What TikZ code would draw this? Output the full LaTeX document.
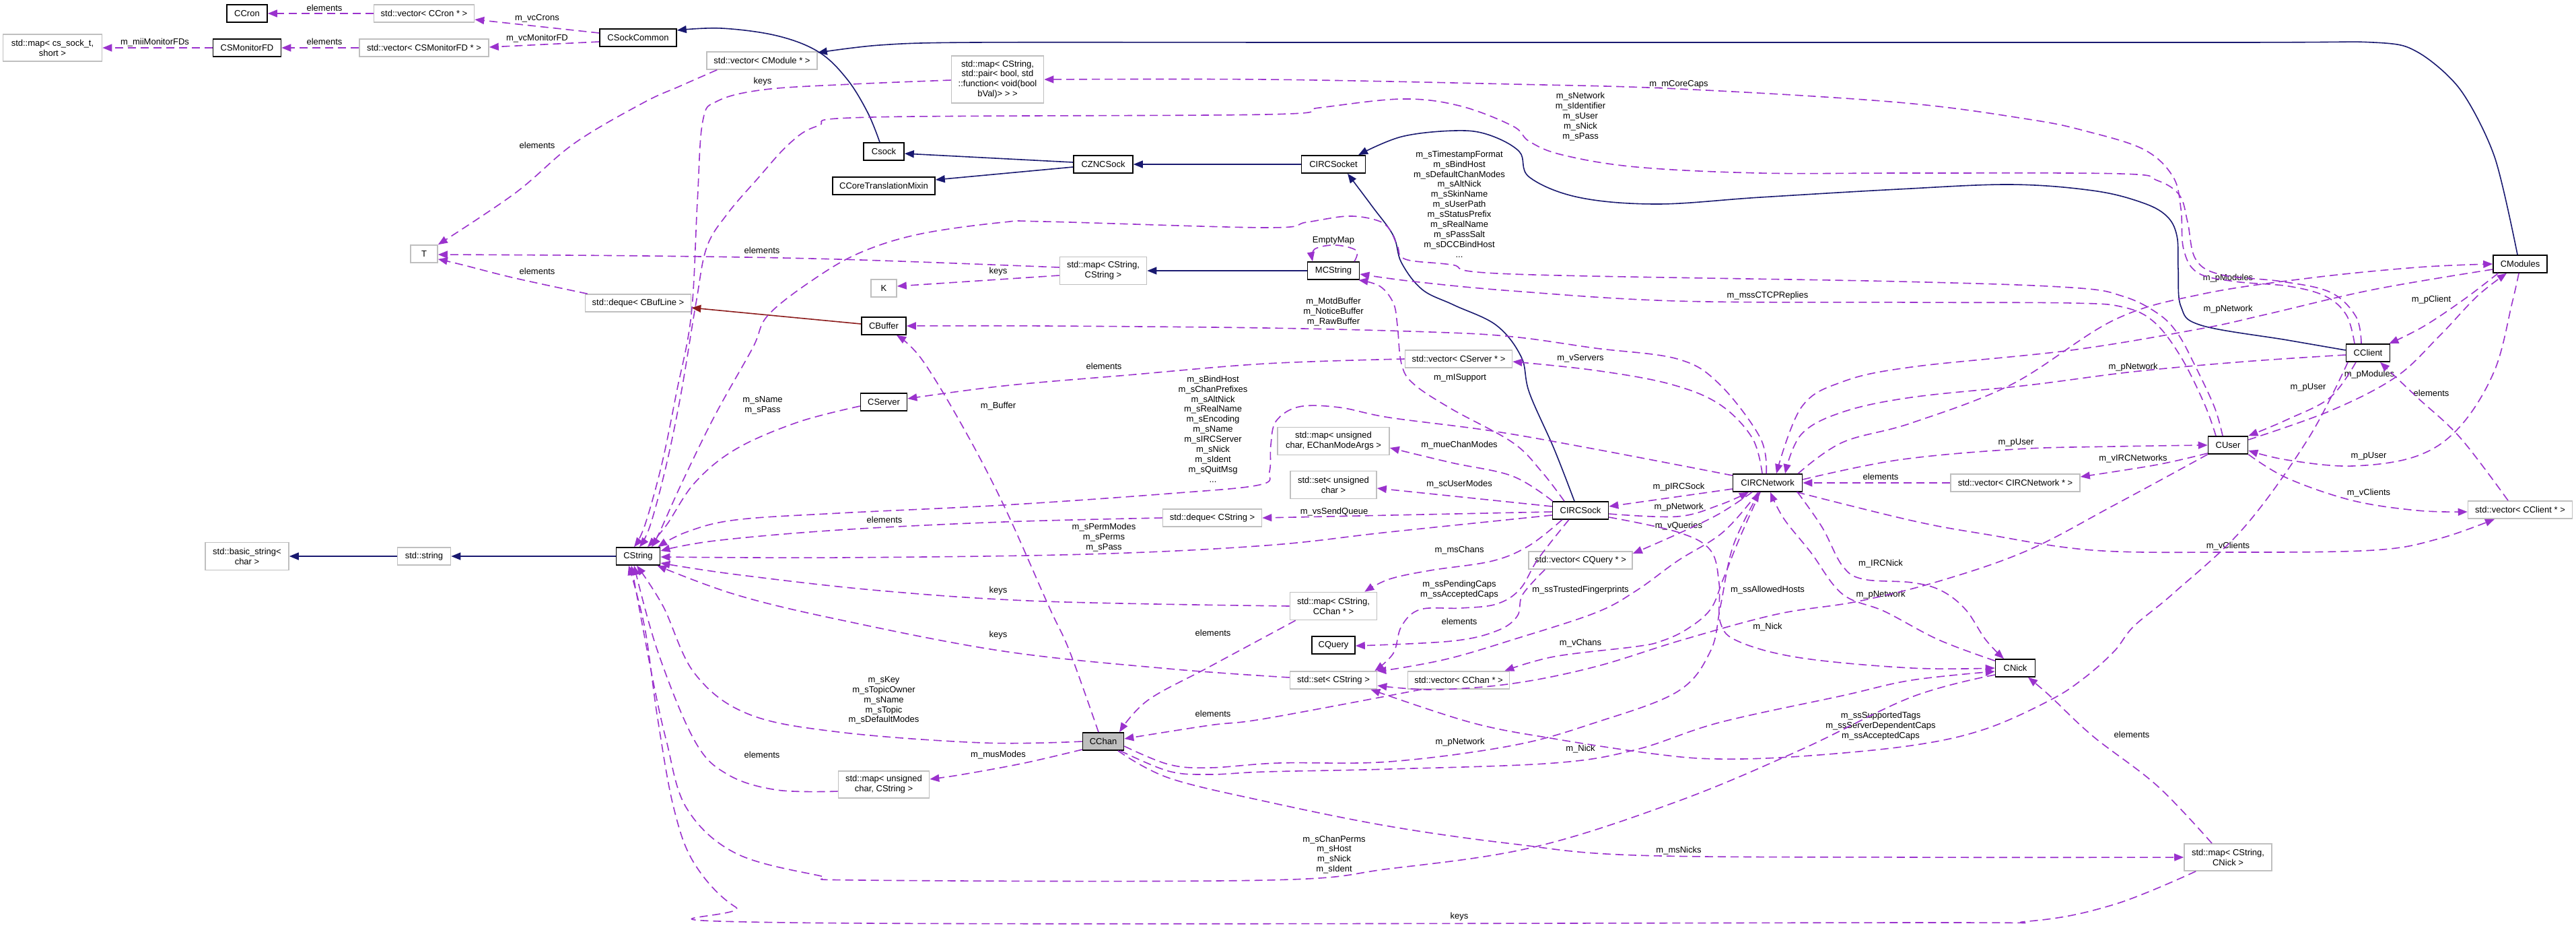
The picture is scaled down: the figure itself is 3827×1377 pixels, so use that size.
\documentclass[tikz,border=0pt]{standalone}
\usepackage{fontspec}
\setmainfont{Liberation Sans}
\usetikzlibrary{arrows.meta,calc}
\definecolor{usec}{HTML}{9A32CD}
\definecolor{inhc}{HTML}{191970}
\definecolor{redc}{HTML}{8B1A1A}
\definecolor{tplc}{HTML}{BFBFBF}
\definecolor{chanc}{HTML}{BFBFBF}
\tikzset{
  every node/.style={font=\fontsize{13pt}{14.9pt}\selectfont},
  cls/.style={draw=black, line width=1.6pt, fill=white, inner sep=0pt, minimum height=26pt, align=center},
  tpl/.style={draw=tplc, line width=1.6pt, fill=white, inner sep=0pt, minimum height=26pt, align=center},
  lbl/.style={inner sep=0pt, align=center},
  use/.style={draw=usec, line width=1.6pt, dash pattern=on 12pt off 7pt, -{Triangle[length=14pt,width=11pt]}},
  inh/.style={draw=inhc, line width=1.6pt, -{Triangle[length=14pt,width=11pt]}},
  inhr/.style={draw=redc, line width=1.6pt, -{Triangle[length=14pt,width=11pt]}},
  sm/.style={smooth, tension=0.6}
}
\begin{document}
\begin{tikzpicture}[x=1pt,y=-1pt]
\fill[white] (0,0) rectangle (3827,1377);
\useasboundingbox (0,0) rectangle (3827,1377);

% ---------------- nodes ----------------
\node[cls, minimum width=60pt] (ccron) at (367,20) {CCron};
\node[tpl, minimum width=149pt] (vcc) at (630,20) {std::vector< CCron * >};
\node[tpl, minimum width=147pt, minimum height=40pt] (mapsock) at (78,71) {std::map< cs\_sock\_t,\\short >};
\node[cls, minimum width=101pt] (csmfd) at (367,71) {CSMonitorFD};
\node[tpl, minimum width=192pt] (vmon) at (630,71) {std::vector< CSMonitorFD * >};
\node[cls, minimum width=114pt] (csc) at (948,56) {CSockCommon};
\node[tpl, minimum width=40pt] (tT) at (630,377) {T};
\node[tpl, minimum width=157pt] (dqbuf) at (948,450) {std::deque< CBufLine >};
\node[tpl, minimum width=164pt] (vmod) at (1132,90) {std::vector< CModule * >};
\node[tpl, minimum width=137pt, minimum height=70pt] (mcaps) at (1482,118) {std::map< CString,\\std::pair< bool, std\\::function< void(bool\\bVal)> > >};
\node[cls, minimum width=60pt] (csock) at (1313,225) {Csock};
\node[cls, minimum width=152pt] (cctm) at (1313,276) {CCoreTranslationMixin};
\node[cls, minimum width=88pt] (cznc) at (1639,244) {CZNCSock};
\node[tpl, minimum width=129pt, minimum height=41pt] (mapss) at (1639,402) {std::map< CString,\\CString >};
\node[tpl, minimum width=38pt] (kK) at (1313,428) {K};
\node[cls, minimum width=95pt] (circsocket) at (1981,244) {CIRCSocket};
\node[cls, minimum width=77pt] (mcstr) at (1981,402) {MCString};
\node[cls, minimum width=80pt] (cmods) at (3744,392) {CModules};
\node[tpl, minimum width=124pt, minimum height=41pt] (basic) at (367,826) {std::basic\_string<\\char >};
\node[tpl, minimum width=79pt] (stdstr) at (630,826) {std::string};
\node[cls, minimum width=65pt] (cstr) at (948,826) {CString};
\node[cls, minimum width=66pt] (cbuf) at (1313,484) {CBuffer};
\node[cls, minimum width=69pt] (cserv) at (1313,597) {CServer};
\node[tpl, minimum width=147pt] (dqstr) at (1801,769) {std::deque< CString >};
\node[tpl, minimum width=159pt] (vserv) at (2167,533) {std::vector< CServer * >};
\node[tpl, minimum width=166pt, minimum height=41pt] (mcm) at (1981,655) {std::map< unsigned\\char, EChanModeArgs >};
\node[tpl, minimum width=128pt, minimum height=41pt] (setch) at (1981,720) {std::set< unsigned\\char >};
\node[cls, minimum width=83pt] (circsock) at (2348,758) {CIRCSock};
\node[cls, minimum width=103pt] (cnet) at (2626,717) {CIRCNetwork};
\node[tpl, minimum width=154pt] (vq) at (2348,832) {std::vector< CQuery * >};
\node[tpl, minimum width=129pt, minimum height=41pt] (mchan) at (1981,900) {std::map< CString,\\CChan * >};
\node[cls, minimum width=65pt] (cclient) at (3518,524) {CClient};
\node[cls, minimum width=59pt] (cuser) at (3310,661) {CUser};
\node[tpl, minimum width=192pt] (vnet) at (2994,717) {std::vector< CIRCNetwork * >};
\node[tpl, minimum width=155pt] (vcl) at (3744,757) {std::vector< CClient * >};
\node[cls, fill=chanc, minimum width=61pt] (cchan) at (1639,1101) {CChan};
\node[tpl, minimum width=135pt, minimum height=40pt] (muc) at (1313,1165) {std::map< unsigned\\char, CString >};
\node[cls, minimum width=64pt] (cquery) at (1981,958) {CQuery};
\node[tpl, minimum width=129pt] (setstr) at (1981,1010) {std::set< CString >};
\node[tpl, minimum width=151pt] (vchan) at (2167,1010) {std::vector< CChan * >};
\node[cls, minimum width=59pt] (cnick) at (2994,992) {CNick};
\node[tpl, minimum width=130pt, minimum height=40pt] (mnick) at (3310,1273) {std::map< CString,\\CNick >};

% ---------------- labels ----------------
\node[lbl] (l1) at (482,12) {elements};
\node[lbl] (l2) at (798,27) {m\_vcCrons};
\node[lbl] (l3) at (798,57) {m\_vcMonitorFD};
\node[lbl] (l4) at (482,62) {elements};
\node[lbl] (l5) at (230,63) {m\_miiMonitorFDs};
\node[lbl] (l6) at (798,216) {elements};
\node[lbl] (l7) at (1132,372) {elements};
\node[lbl] (l8) at (1483,403) {keys};
\node[lbl] (l9) at (798,403) {elements};
\node[lbl] (l10) at (1133,121) {keys};
\node[lbl] (l11) at (2494,125) {m\_mCoreCaps};
\node[lbl] (l12) at (2348,173) {m\_sNetwork\\m\_sIdentifier\\m\_sUser\\m\_sNick\\m\_sPass};
\node[lbl] (l13) at (2168,303) {m\_sTimestampFormat\\m\_sBindHost\\m\_sDefaultChanModes\\m\_sAltNick\\m\_sSkinName\\m\_sUserPath\\m\_sStatusPrefix\\m\_sRealName\\m\_sPassSalt\\m\_sDCCBindHost\\...};
\node[lbl] (l14) at (2626,439) {m\_mssCTCPReplies};
\node[lbl] (l15) at (1981,357) {EmptyMap};
\node[lbl] (l16) at (1981,463) {m\_MotdBuffer\\m\_NoticeBuffer\\m\_RawBuffer};
\node[lbl] (l17) at (3310,413) {m\_pModules};
\node[lbl] (l18) at (3310,459) {m\_pNetwork};
\node[lbl] (l19) at (3612,445) {m\_pClient};
\node[lbl] (l20) at (1133,602) {m\_sName\\m\_sPass};
\node[lbl] (l21) at (1483,603) {m\_Buffer};
\node[lbl] (l22) at (1640,544) {elements};
\node[lbl] (l23) at (1802,637) {m\_sBindHost\\m\_sChanPrefixes\\m\_sAltNick\\m\_sRealName\\m\_sEncoding\\m\_sName\\m\_sIRCServer\\m\_sNick\\m\_sIdent\\m\_sQuitMsg\\...};
\node[lbl] (l24) at (1314,772) {elements};
\node[lbl] (l25) at (1640,798) {m\_sPermModes\\m\_sPerms\\m\_sPass};
\node[lbl] (l26) at (1483,877) {keys};
\node[lbl] (l27) at (2348,532) {m\_vServers};
\node[lbl] (l28) at (2169,561) {m\_mISupport};
\node[lbl] (l29) at (2168,661) {m\_mueChanModes};
\node[lbl] (l30) at (2168,719) {m\_scUserModes};
\node[lbl] (l31) at (2494,723) {m\_pIRCSock};
\node[lbl] (l32) at (2494,753) {m\_pNetwork};
\node[lbl] (l33) at (2494,781) {m\_vQueries};
\node[lbl] (l34) at (2794,708) {elements};
\node[lbl] (l35) at (1982,760) {m\_vsSendQueue};
\node[lbl] (l36) at (2168,817) {m\_msChans};
\node[lbl] (l37) at (2168,876) {m\_ssPendingCaps\\m\_ssAcceptedCaps};
\node[lbl] (l38) at (2348,876) {m\_ssTrustedFingerprints};
\node[lbl] (l39) at (2794,837) {m\_IRCNick};
\node[lbl] (l40) at (2626,876) {m\_ssAllowedHosts};
\node[lbl] (l41) at (2794,883) {m\_pNetwork};
\node[lbl] (l42) at (3169,545) {m\_pNetwork};
\node[lbl] (l43) at (3520,556) {m\_pModules};
\node[lbl] (l44) at (3429,575) {m\_pUser};
\node[lbl] (l45) at (3612,584) {elements};
\node[lbl] (l46) at (2995,657) {m\_pUser};
\node[lbl] (l47) at (3169,681) {m\_vIRCNetworks};
\node[lbl] (l48) at (3519,677) {m\_pUser};
\node[lbl] (l49) at (3519,732) {m\_vClients};
\node[lbl] (l50) at (3310,811) {m\_vClients};
\node[lbl] (l51) at (1483,943) {keys};
\node[lbl] (l52) at (1802,940) {elements};
\node[lbl] (l53) at (1313,1040) {m\_sKey\\m\_sTopicOwner\\m\_sName\\m\_sTopic\\m\_sDefaultModes};
\node[lbl] (l54) at (1802,1060) {elements};
\node[lbl] (l55) at (1132,1121) {elements};
\node[lbl] (l56) at (1483,1121) {m\_musModes};
\node[lbl] (l57) at (2168,923) {elements};
\node[lbl] (l58) at (2348,955) {m\_vChans};
\node[lbl] (l59) at (2626,931) {m\_Nick};
\node[lbl] (l60) at (2169,1102) {m\_pNetwork};
\node[lbl] (l61) at (2348,1112) {m\_Nick};
\node[lbl] (l62) at (2794,1078) {m\_ssSupportedTags\\m\_ssServerDependentCaps\\m\_ssAcceptedCaps};
\node[lbl] (l63) at (1982,1269) {m\_sChanPerms\\m\_sHost\\m\_sNick\\m\_sIdent};
\node[lbl] (l64) at (2494,1263) {m\_msNicks};
\node[lbl] (l65) at (2168,1361) {keys};
\node[lbl] (l66) at (3167,1091) {elements};

% ---------------- inheritance ----------------
\draw[inh] plot[sm] coordinates {($(csock.north)+(-6,0)$) (1289,167) (1258,117) (1216,77) (1154,53) (1072,42) ($(csc.east)+(0,-11)$)};
\draw[inh] ($(cznc.west)+(0,-3)$) -- ($(csock.east)+(0,3)$);
\draw[inh] ($(cznc.west)+(0,4)$) -- ($(cctm.east)+(0,-9)$);
\draw[inh] (circsocket.west) -- (cznc.east);
\draw[inh] plot[sm] coordinates {($(circsock.north)+(-9,0)$) (2309,667) (2272,583) (2260,530) (2223,483) (2160,453) (2113,430) (2082,390) (2070,350) (2039,307) ($(circsocket.south)+(21,0)$)};
\draw[inh] plot[sm] coordinates {($(cclient.west)+(0,-4)$) (3398,505) (3270,483) (3240,455) (3236,400) (3234,350) (3218,320) (3180,300) (3109,283) (2987,274) (2820,281) (2615,293) (2462,303) (2345,293) (2272,263) (2257,225) (2211,200) (2162,194) (2082,203) ($(circsocket.north)+(37,0)$)};
\draw[inh] plot[smooth,tension=0.5] coordinates {($(cmods.north)+(-4,0)$) (3706,233) (3655,133) (3591,77) (3526,63) (3300,63) (2000,63) (1448,63) (1307,67) ($(vmod.north east)+(0,2)$)};
\draw[inh] (cstr.west) -- (stdstr.east);
\draw[inh] (stdstr.west) -- (basic.east);
\draw[inh] (mcstr.west) -- (mapss.east);
\draw[inhr] ($(cbuf.west)+(0,-3)$) -- ($(dqbuf.east)+(0,7)$);

% ---------------- usage ----------------
\draw[use] (vcc.west) -- (ccron.east);
\draw[use] ($(csc.west)+(0,-7)$) -- ($(vcc.east)+(0,9)$);
\draw[use] ($(csc.west)+(0,6)$) -- ($(vmon.east)+(0,-1)$);
\draw[use] (vmon.west) -- (csmfd.east);
\draw[use] (csmfd.west) -- (mapsock.east);
\draw[use] plot[sm] coordinates {($(vmod.south west)+(16,0)$) (1010,128) (955,153) (853,213) (765,287) (tT.north east)};
\draw[use] plot[sm] coordinates {($(mapss.west)+(0,-5)$) (1246,385) (960,380) ($(tT.east)+(0,1)$)};
\draw[use] ($(mapss.west)+(0,7)$) -- ($(kK.east)+(0,-3)$);
\draw[use] plot[sm] coordinates {($(dqbuf.north west)+(4,0)$) (765,413) (686,393) ($(tT.south east)+(0,-6)$)};
\draw[use] plot[sm] coordinates {($(mcaps.west)+(0,1)$) (1265,125) (1136,133) (1066,150) (1044,180) (1036,300) (1027,467) (1005,583) (983,690) (958,780) ($(cstr.north)+(-6,0)$)};
\draw[use] plot[sm] coordinates {($(cclient.north)+(-20,0)$) (3486,468) (3455,440) (3400,425) (3320,418) (3265,405) (3244,370) (3240,310) (3228,262) (3185,222) (3100,195) (3013,177) (2820,152) (2494,132) (2247,125) (1880,118) (mcaps.east)};
\draw[use] plot[sm] coordinates {($(cclient.north)+(-10,0)$) (3500,470) (3462,434) (3390,418) (3300,408) (3262,385) (3250,330) (3238,290) (3205,268) (3150,258) (2840,257) (2615,257) (2431,248) (2321,230) (2272,210) (2247,187) (2168,157) (2082,147) (1960,160) (1880,170) (1295,174) (1215,187) (1173,213) (1124,267) (1081,317) (1050,367) (1034,450) (1012,583) (990,690) (966,780) ($(cstr.north)+(2,0)$)};
\draw[use] plot[sm] coordinates {($(cuser.north)+(-8,0)$) (3290,605) (3262,545) (3235,495) (3205,465) (3154,440) (3077,427) (2820,418) (2247,407) (2156,393) (2088,385) (2076,365) (2064,340) (2045,327) (2002,321) (1941,330) (1880,338) (1552,329) (1491,330) (1369,347) (1283,373) (1216,410) (1142,467) (1118,517) (1062,617) (1013,717) (980,790) ($(cstr.north)+(20,0)$)};
\draw[use] plot[sm] coordinates {($(cuser.north)+(-18,0)$) (3275,600) (3240,530) (3200,478) (3154,456) (3077,450) (2840,449) (2492,447) (2247,432) (2100,418) ($(mcstr.east)+(0,5)$)};
\draw[use] plot[sm] coordinates {($(circsock.north)+(-24,0)$) (2290,700) (2247,657) (2156,607) (2100,570) (2082,540) (2076,483) (2070,450) (2050,425) ($(mcstr.south east)+(-2,0)$)};
\draw[use] plot[sm] coordinates {($(mcstr.north)+(31,0)$) (2015,372) (1984,364) (1953,370) ($(mcstr.north)+(-31,0)$)};
\draw[use] plot[sm] coordinates {($(cnet.north)+(-2,0)$) (2615,650) (2554,570) (2492,533) (2370,517) (2247,500) (2125,493) (1880,487) (1552,484) (cbuf.east)};
\draw[use] plot[sm] coordinates {($(cnet.north)+(-8,0)$) (2603,650) (2554,600) (2480,570) (2370,550) ($(vserv.east)+(0,4)$)};
\draw[use] plot[sm] coordinates {(vserv.west) (1880,540) (1675,557) (1491,573) ($(cserv.east)+(0,-5)$)};
\draw[use] plot[sm] coordinates {($(cnet.west)+(0,-11)$) (2370,667) (2217,640) (2064,620) (1990,605) (1930,604) (1896,625) (1888,660) (1886,700) (1871,720) (1736,733) (1491,750) (1246,762) (1093,772) (1020,790) ($(cstr.north east)+(-4,0)$)};
\draw[use] plot[sm] coordinates {($(cserv.west)+(0,6)$) (1185,627) (1093,667) (1032,717) (990,780) ($(cstr.north)+(14,0)$)};
\draw[use] plot[sm] coordinates {(dqstr.west) (1491,775) (1246,787) (1062,803) ($(cstr.east)+(0,-8)$)};
\draw[use] ($(circsock.west)+(0,2)$) -- (dqstr.east);
\draw[use] plot[sm] coordinates {($(circsock.west)+(0,7)$) (2064,790) (1880,810) (1614,823) (1246,828) ($(cstr.east)+(0,1)$)};
\draw[use] plot[sm] coordinates {(mchan.west) (1552,893) (1307,877) (1093,853) ($(cstr.east)+(0,10)$)};
\draw[use] plot[sm] coordinates {($(setstr.west)+(0,-4)$) (1736,993) (1491,967) (1246,920) (1093,883) ($(cstr.south east)+(-5,0)$)};
\draw[use] plot[sm] coordinates {(cchan.west) (1460,1103) (1246,1087) (1111,1060) (1032,1000) (985,900) ($(cstr.south)+(-2,0)$)};
\draw[use] plot[sm] coordinates {($(muc.west)+(0,10)$) (1154,1173) (1081,1150) (1032,1100) (977,967) ($(cstr.south)+(-6,0)$)};
\draw[use] plot[sm] coordinates {($(cnick.west)+(0,10)$) (2840,1035) (2676,1113) (2492,1190) (2278,1258) (2064,1290) (1880,1307) (1283,1307) (1216,1300) (1093,1267) (1020,1200) (990,1100) (968,1000) ($(cstr.south)+(-10,0)$)};
\draw[use] plot[sm] coordinates {($(mnick.south west)+(18,0)$) (3141,1343) (3013,1368) (2820,1370) (1173,1370) (1093,1347) (1032,1283) (1001,1200) (977,1067) (958,933) ($(cstr.south)+(-14,0)$)};
\draw[use] plot[sm] coordinates {($(cchan.north)+(-7,0)$) (1589,967) (1558,900) (1491,750) (1430,633) (1369,533) ($(cbuf.south)+(19,0)$)};
\draw[use] plot[sm] coordinates {($(cchan.west)+(0,12)$) (1522,1133) (1430,1150) ($(muc.east)+(0,-8)$)};
\draw[use] plot[sm] coordinates {($(mchan.south west)+(9,0)$) (1797,990) (1705,1040) ($(cchan.north)+(24,0)$)};
\draw[use] plot[sm] coordinates {($(vchan.south west)+(21,0)$) (1880,1067) (1797,1077) ($(cchan.east)+(0,-4)$)};
\draw[use] plot[sm] coordinates {($(cchan.east)+(0,7)$) (1736,1135) (1797,1140) (1900,1133) (2064,1131) (2247,1107) (2370,1073) (2492,1027) (2541,967) (2556,900) (2575,810) ($(cnet.south)+(-12,0)$)};
\draw[use] plot[sm] coordinates {($(cchan.south east)+(-6,0)$) (1736,1145) (1797,1150) (1880,1146) (2064,1142) (2309,1133) (2431,1113) (2554,1073) (2737,1033) (2840,1010) ($(cnick.west)+(0,5)$)};
\draw[use] plot[sm] coordinates {($(cchan.south)+(22,0)$) (1736,1155) (1880,1190) (2064,1227) (2247,1253) (2431,1270) (2840,1273) (mnick.west)};
\draw[use] plot[sm] coordinates {($(mnick.north)+(-24,0)$) (3205,1167) (3109,1093) (3045,1033) ($(cnick.south)+(19,0)$)};
\draw[use] plot[sm] coordinates {($(circsock.east)+(0,10)$) (2492,790) (2541,817) (2554,867) (2556,925) (2584,953) (2676,977) (2840,992) (cnick.west)};
\draw[use] plot[sm] coordinates {($(cnet.south east)+(-8,0)$) (2707,783) (2737,840) (2768,860) (2840,865) (2884,877) (2920,905) (2950,950) ($(cnick.north)+(-17,0)$)};
\draw[use] plot[sm] coordinates {($(cnick.north west)+(0,3)$) (2880,950) (2800,908) (2737,882) (2690,820) (2650,770) ($(cnet.south)+(4,0)$)};
\draw[use] plot[sm] coordinates {($(circsock.east)+(0,5)$) (2492,767) (2554,750) ($(cnet.south)+(-28,0)$)};
\draw[use] ($(cnet.west)+(0,9)$) -- ($(circsock.east)+(0,-6)$);
\draw[use] plot[sm] coordinates {($(cnet.south)+(-23,0)$) (2554,763) (2492,793) ($(vq.east)+(0,-10)$)};
\draw[use] plot[sm] coordinates {($(vq.south west)+(25,0)$) (2262,883) (2254,915) (2223,937) (2156,952) ($(cquery.east)+(0,1)$)};
\draw[use] plot[sm] coordinates {($(circsock.south west)+(15,0)$) (2272,810) (2217,833) (2125,847) (2064,860) ($(mchan.north east)+(-19,0)$)};
\draw[use] plot[sm] coordinates {($(circsock.south west)+(25,0)$) (2285,830) (2258,875) (2223,897) (2170,903) (2110,905) (2082,930) (2070,970) ($(setstr.north east)+(-4,0)$)};
\draw[use] plot[sm] coordinates {($(cnet.south)+(-14,0)$) (2560,790) (2492,833) (2431,877) (2370,910) (2247,950) (2156,977) (2080,992) ($(setstr.north east)+(-1,0)$)};
\draw[use] plot[sm] coordinates {($(cnet.south)+(-11,0)$) (2584,800) (2560,860) (2541,905) (2505,935) (2468,952) (2431,960) (2309,975) ($(vchan.north east)+(-8,0)$)};
\draw[use] plot[sm] coordinates {(cuser.south west) (3141,750) (3013,817) (2884,862) (2760,893) (2640,912) (2500,950) (2370,990) (2247,1015) (2130,1024) ($(setstr.east)+(0,8)$)};
\draw[use] plot[sm] coordinates {($(cclient.south)+(-30,0)$) (3430,650) (3334,783) (3230,880) (3170,930) (3141,967) (3096,1007) (3045,1040) (2948,1083) (2840,1107) (2676,1123) (2554,1127) (2462,1120) (2309,1097) (2186,1073) ($(setstr.south east)+(-10,0)$)};
\draw[use] plot[sm] coordinates {($(cclient.south)+(-18,0)$) (3462,590) (3398,623) (cuser.north east)};
\draw[use] plot[sm] coordinates {($(cclient.west)+(0,3)$) (3334,537) (3169,552) (3013,572) (2840,590) (2737,612) (2676,645) ($(cnet.north)+(26,0)$)};
\draw[use] plot[sm] coordinates {($(cmods.west)+(0,8)$) (3526,430) (3366,467) (3270,488) (3077,520) (2840,545) (2737,567) (2676,605) ($(cnet.north)+(13,0)$)};
\draw[use] plot[sm] coordinates {($(cnet.north east)+(-7,0)$) (2737,657) (2840,628) (2990,570) (3141,475) (3270,437) (3430,413) (3591,397) (cmods.west)};
\draw[use] plot[sm] coordinates {($(cnet.east)+(0,-5)$) (2820,683) (2995,667) (3141,663) (cuser.west)};
\draw[use] plot[sm] coordinates {($(cuser.west)+(0,12)$) (3205,690) ($(vnet.east)+(0,-9)$)};
\draw[use] (vnet.west) -- (cnet.east);
\draw[use] plot[sm] coordinates {(cuser.south east) (3398,710) (3494,743) (3591,758) ($(vcl.west)+(0,3)$)};
\draw[use] plot[sm] coordinates {($(cnet.south east)+(-9,0)$) (2840,773) (2948,793) (3109,817) (3310,820) (3526,817) (3623,800) ($(vcl.south)+(-38,0)$)};
\draw[use] plot[sm] coordinates {($(vcl.north)+(-18,0)$) (3655,650) (3591,590) ($(cclient.south)+(18,0)$)};
\draw[use] plot[sm] coordinates {($(cmods.south west)+(8,0)$) (3660,445) (3600,485) ($(cclient.north east)+(-2,0)$)};
\draw[use] plot[sm] coordinates {($(cuser.east)+(0,-8)$) (3462,610) (3559,560) (3623,500) (3680,440) ($(cmods.south)+(-20,0)$)};
\draw[use] plot[sm] coordinates {($(cmods.south)+(-2,0)$) (3732,450) (3706,550) (3655,633) (3591,677) (3494,692) (3398,683) ($(cuser.east)+(0,8)$)};
\draw[use] plot[sm] coordinates {($(circsock.north west)+(1,0)$) (2247,707) (2156,687) ($(mcm.east)+(0,10)$)};
\draw[use] ($(circsock.west)+(0,-6)$) -- ($(setch.east)+(0,5)$);
\end{tikzpicture}
\end{document}
